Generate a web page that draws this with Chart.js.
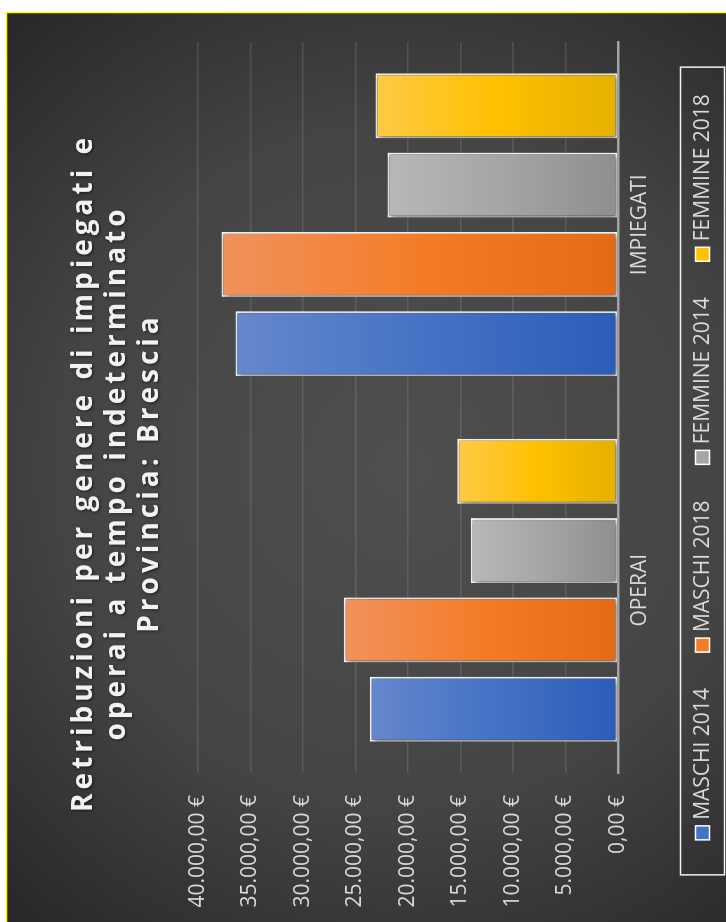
<!DOCTYPE html>
<html>
<head>
<meta charset="utf-8">
<script src="https://cdn.jsdelivr.net/npm/chart.js@4"></script>
<style>
  html, body { margin: 0; padding: 0; background: #fff; }
  #wrap { position: relative; width: 726px; height: 922px; overflow: hidden; }
  #grafico {
    position: absolute; left: 0; top: 0;
    transform-origin: 0 0;
    transform: translateY(922px) rotate(-90deg);
  }
</style>
</head>
<body>
<div id="wrap"><canvas id="grafico" width="922" height="726"></canvas></div>
<script>
const categorie = ["OPERAI", "IMPIEGATI"];
const maschi2014 = [23650, 36440];
const maschi2018 = [26120, 37770];
const femmine2014 = [14030, 21960];
const femmine2018 = [15300, 23100];
const titolo = [
  "Retribuzioni per genere di impiegati e",
  "operai a tempo indeterminato",
  "Provincia: Brescia",
];
const etichetteSerie = ["MASCHI 2014", "MASCHI 2018", "FEMMINE 2014", "FEMMINE 2018"];

// chiaro -> medio -> scuro, dalla punta della barra alla base
const colori = [
  ["#6687cc", "#4472c4", "#2b5cb8"],
  ["#f0925c", "#f47c28", "#e36a17"],
  ["#b8b8b8", "#a5a5a5", "#8e8e8e"],
  ["#ffca48", "#ffc000", "#e4b000"],
];

const euro = function (v) {
  const intero = Math.round(v).toString().replace(/\B(?=(\d{3})+(?!\d))/g, ".");
  return `${intero},00 €`;
};

const sfumatura = function (i) {
  return function (ctx) {
    const chart = ctx.chart;
    if (!chart.chartArea || ctx.parsed == null) return colori[i][1];
    const y = chart.scales.y;
    const top = y.getPixelForValue(ctx.parsed.y);
    const base = y.getPixelForValue(0);
    const g = chart.ctx.createLinearGradient(0, top, 0, base);
    g.addColorStop(0, colori[i][0]);
    g.addColorStop(0.5, colori[i][1]);
    g.addColorStop(1, colori[i][2]);
    return g;
  };
};

const serie = [maschi2014, maschi2018, femmine2014, femmine2018];
const datasets = serie.map((valori, i) => ({
  label: etichetteSerie[i],
  data: valori,
  backgroundColor: sfumatura(i),
  borderColor: "#ffffff",
  borderWidth: 2,
  borderSkipped: false,
  barPercentage: 0.82,
  categoryPercentage: 0.868,
}));

const sfondo = {
  id: "sfondo",
  beforeDraw(chart) {
    const c = chart.ctx;
    c.save();
    c.fillStyle = "#ffffff";
    c.fillRect(0, 0, chart.width, chart.height);
    const g = c.createRadialGradient(455, 400, 0, 455, 400, 620);
    g.addColorStop(0, "#4f4f4f");
    g.addColorStop(0.55, "#444444");
    g.addColorStop(1, "#252525");
    c.fillStyle = g;
    c.fillRect(0, 7, 909, 719);
    c.strokeStyle = "#ffff00";
    c.lineWidth = 1.5;
    c.beginPath();
    c.moveTo(0, 6.5);
    c.lineTo(909.5, 6.5);
    c.lineTo(909.5, 726);
    c.stroke();
    c.restore();
  },
  beforeDatasetsDraw(chart) {
    const c = chart.ctx;
    c.save();
    c.shadowColor = "rgba(0,0,0,0.55)";
    c.shadowBlur = 6;
    c.shadowOffsetX = -2;
    c.shadowOffsetY = 2;
  },
  afterDatasetsDraw(chart) {
    chart.ctx.restore();
  },
};

const titoloELegenda = {
  id: "titoloELegenda",
  afterDraw(chart) {
    const c = chart.ctx;
    // titolo
    c.save();
    c.font = "bold 28px 'Open Sans'";
    c.letterSpacing = "4px";
    c.fillStyle = "#f2f2f2";
    c.textAlign = "center";
    c.textBaseline = "middle";
    c.shadowColor = "rgba(0,0,0,0.6)";
    c.shadowBlur = 3;
    c.shadowOffsetX = -1;
    c.shadowOffsetY = 1;
    const righe = [84, 117, 150];
    titolo.forEach((t, i) => c.fillText(t, 449, righe[i]));
    c.restore();

    // legenda
    c.save();
    c.font = "21px 'Open Sans'";
    c.textBaseline = "middle";
    c.textAlign = "left";
    const box = 14, gap = 6, spazio = 36;
    const larghezze = etichetteSerie.map((t) => box + gap + c.measureText(t).width);
    const totale = larghezze.reduce((a, b) => a + b, 0) + spazio * 3;
    let x = 455 - totale / 2;
    const yc = 702.5;
    c.strokeStyle = "#f2f2f2";
    c.lineWidth = 1.5;
    c.strokeRect(x - 35, 680.5, totale + 62, 44);
    etichetteSerie.forEach((t, i) => {
      c.fillStyle = colori[i][1];
      c.fillRect(x, yc - box / 2, box, box);
      c.strokeStyle = "#ffffff";
      c.lineWidth = 1.5;
      c.strokeRect(x, yc - box / 2, box, box);
      c.fillStyle = "#d9d9d9";
      c.fillText(t, x + box + gap, yc + 1);
      x += larghezze[i] + spazio;
    });
    c.restore();
  },
};

const grafico = new Chart(document.getElementById("grafico"), {
  type: "bar",
  data: { labels: categorie, datasets },
  options: {
    responsive: false,
    animation: false,
    layout: { padding: { left: 10, right: 42, top: 198, bottom: 0 } },
    plugins: {
      legend: { display: false },
      title: { display: false },
      tooltip: { enabled: false },
    },
    scales: {
      x: {
        grid: { display: false },
        border: { display: true, color: "#a3a3a3", width: 2.5 },
        ticks: { color: "#d9d9d9", font: { family: "'Open Sans'", size: 21 }, padding: 1 },
        afterFit(scale) { scale.height = 108; },
      },
      y: {
        min: 0,
        max: 40000,
        border: { display: false },
        grid: { color: "rgba(255,255,255,0.12)", lineWidth: 1.5, drawTicks: false },
        ticks: {
          stepSize: 5000,
          padding: 22,
          color: "#d9d9d9",
          font: { family: "'Open Sans'", size: 21 },
          callback: (v) => euro(v),
        },
        afterFit(scale) { scale.width = 139; },
      },
    },
  },
  plugins: [sfondo, titoloELegenda],
});
</script>
</body>
</html>
